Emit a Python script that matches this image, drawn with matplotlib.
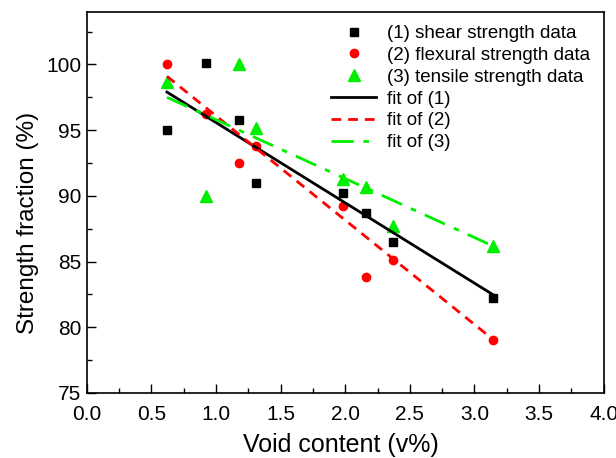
import numpy as np
import matplotlib
matplotlib.use('Agg')
import matplotlib.pyplot as plt
from matplotlib.ticker import MultipleLocator

plt.rcParams['font.family'] = ['Liberation Sans', 'DejaVu Sans']

# data
void_x = [0.62, 0.92, 1.18, 1.31, 1.98, 2.16, 2.37, 3.14]
shear = [95.0, 100.1, 95.8, 91.0, 90.2, 88.7, 86.5, 82.2]
flexural = [100.0, 96.2, 92.5, 93.8, 89.2, 83.8, 85.1, 79.0]
tensile = [98.7, 90.0, 100.0, 95.2, 91.3, 90.7, 87.7, 86.2]

fit_x = [0.62, 3.14]
fit_shear = [97.9, 82.5]
fit_flex = [99.1, 79.1]
fit_tens = [97.5, 86.2]

fig = plt.figure(figsize=(6.16, 4.58), dpi=100)
ax = fig.add_axes([0.141, 0.142, 0.839, 0.832])

ax.plot(void_x, shear, 's', color='black', ms=6, ls='none', label='(1) shear strength data')
ax.plot(void_x, flexural, 'o', color='#ff0000', ms=6, ls='none', label='(2) flexural strength data')
ax.plot(void_x, tensile, '^', color='#00ee00', ms=8, ls='none', label='(3) tensile strength data')
ax.plot(fit_x, fit_shear, '-', color='black', lw=2, label='fit of (1)')
ax.plot(fit_x, fit_flex, color='#ff0000', lw=2, ls=(0, (3.5, 2.5)), label='fit of (2)')
ax.plot(fit_x, fit_tens, color='#00ee00', lw=2, ls=(0, (8, 3.5, 2, 3.5)), label='fit of (3)')

ax.set_xlim(0, 4.0)
ax.set_ylim(75, 104)
ax.xaxis.set_major_locator(MultipleLocator(0.5))
ax.xaxis.set_minor_locator(MultipleLocator(0.25))
ax.yaxis.set_major_locator(MultipleLocator(5))
ax.yaxis.set_minor_locator(MultipleLocator(2.5))
ax.tick_params(which='both', direction='in', top=False, right=False, labelsize=15)
ax.tick_params(axis='x', pad=9)
ax.tick_params(axis='y', pad=4)
ax.tick_params(which='major', length=6.5, width=1)
ax.tick_params(which='minor', length=3.5, width=1)
for s in ax.spines.values():
    s.set_linewidth(1.2)

ax.set_xlabel('Void content (v%)', fontsize=18)
ax.set_ylabel('Strength fraction (%)', fontsize=17.5)
ax.xaxis.set_label_coords(0.492, -0.105)
ax.yaxis.set_label_coords(-0.093, 0.446)

ax.legend(loc='upper right', frameon=False, fontsize=13.5, handlelength=2.4,
          labelspacing=0.25, handletextpad=0.6, borderaxespad=0.3)

fig.savefig('out.png', dpi=100)
